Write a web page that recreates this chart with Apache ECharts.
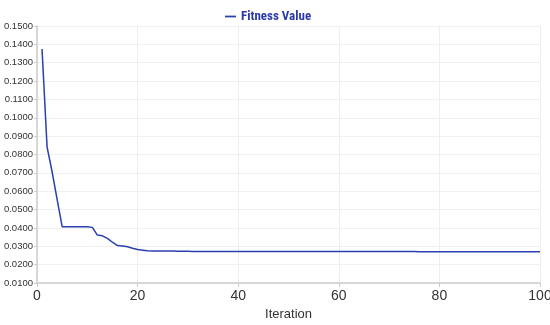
<!DOCTYPE html>
<html>
<head>
<meta charset="utf-8">
<script src="https://cdn.jsdelivr.net/npm/echarts@6/dist/echarts.min.js"></script>
<style>html,body{margin:0;padding:0;background:#fff}#c{width:550px;height:325px}</style>
</head>
<body>
<div id="c"></div>
<script>
const seriesName = "Fitness Value";
const xTicks = [0, 20, 40, 60, 80, 100];
const yTicks = [0.01, 0.02, 0.03, 0.04, 0.05, 0.06, 0.07, 0.08, 0.09, 0.10, 0.11, 0.12, 0.13, 0.14, 0.15];
const iterations = [1,2,3,4,5,6,7,8,9,10,11,12,13,14,15,16,17,18,19,20,21,22,23,24,25,26,27,28,29,30,31,32,33,34,35,36,37,38,39,40,41,42,43,44,45,46,47,48,49,50,51,52,53,54,55,56,57,58,59,60,61,62,63,64,65,66,67,68,69,70,71,72,73,74,75,76,77,78,79,80,81,82,83,84,85,86,87,88,89,90,91,92,93,94,95,96,97,98,99,100];
const fitness = [
0.1375,0.0842,0.0706,0.0556,0.0407,0.0407,0.0407,0.0407,0.0407,0.0406,
0.0403,0.0361,0.0357,0.0343,0.0322,0.0304,0.0301,0.0297,0.0289,0.0282,
0.0279,0.0276,0.0274,0.0274,0.0274,0.0274,0.0274,0.0273,0.0273,0.0273,
0.0272,0.0272,0.0272,0.0272,0.0272,0.0272,0.0272,0.0272,0.0272,0.0272,
0.0272,0.0272,0.0272,0.0272,0.0272,0.0272,0.0272,0.0272,0.0272,0.0272,
0.0271,0.0271,0.0271,0.0271,0.0271,0.0271,0.0271,0.0271,0.0271,0.0271,
0.0271,0.0271,0.0271,0.0271,0.0271,0.0271,0.0271,0.0271,0.0271,0.0271,
0.0271,0.0271,0.0271,0.0271,0.0271,0.0270,0.0270,0.0270,0.0270,0.0270,
0.0270,0.0270,0.0270,0.0270,0.0270,0.0270,0.0270,0.0270,0.0270,0.0270,
0.0270,0.0270,0.0270,0.0270,0.0270,0.0270,0.0270,0.0270,0.0270,0.0270
];

const chart = echarts.init(document.getElementById('c'), null, {renderer: 'canvas'});
chart.setOption({
  animation: false,
  legend: {
    top: 5, left: 220,
    data: [seriesName],
    icon: 'path://M0,0 L10,0 L10,1.6 L0,1.6 Z',
    itemWidth: 11, itemHeight: 2, itemGap: 2,
    textStyle: {fontFamily: '"Liberation Sans Narrow", "Roboto Condensed", "Open Sans"', fontWeight: 'bold', fontSize: 13, color: '#2b3aa6'}
  },
  grid: {left: 37, right: 10, top: 26, bottom: 42, containLabel: false, outerBoundsMode: 'none'},
  xAxis: {
    type: 'value', min: xTicks[0], max: xTicks[xTicks.length-1], interval: 20,
    name: 'Iteration', nameLocation: 'middle', nameGap: 22,
    nameTextStyle: {fontFamily: 'Liberation Sans', fontSize: 13, color: '#333'},
    axisLine: {show: true, lineStyle: {color: '#ccc', width: 1.5}},
    axisTick: {show: true, length: 4, lineStyle: {color: '#ccc'}},
    axisLabel: {fontFamily: 'Liberation Sans', fontSize: 14, color: '#333', margin: 6},
    splitLine: {show: true, lineStyle: {color: '#eeeeee'}}
  },
  yAxis: {
    type: 'value', min: 0.01, max: 0.15, interval: 0.01,
    axisLine: {show: true, lineStyle: {color: '#ccc', width: 1.5}},
    axisTick: {show: true, length: 3, lineStyle: {color: '#ccc'}},
    axisLabel: {fontFamily: 'Liberation Sans', fontSize: 9.5, color: '#333', margin: 4,
      formatter: v => v.toFixed(4)},
    splitLine: {show: true, lineStyle: {color: '#f0f0f0'}}
  },
  series: [{
    name: seriesName, type: 'line', showSymbol: false, symbol: 'none',
    data: iterations.map((x, i) => [x, fitness[i]]),
    lineStyle: {color: '#2a3fb0', width: 1.5},
    itemStyle: {color: '#2a3fb0'}
  }]
});
</script>
</body>
</html>
